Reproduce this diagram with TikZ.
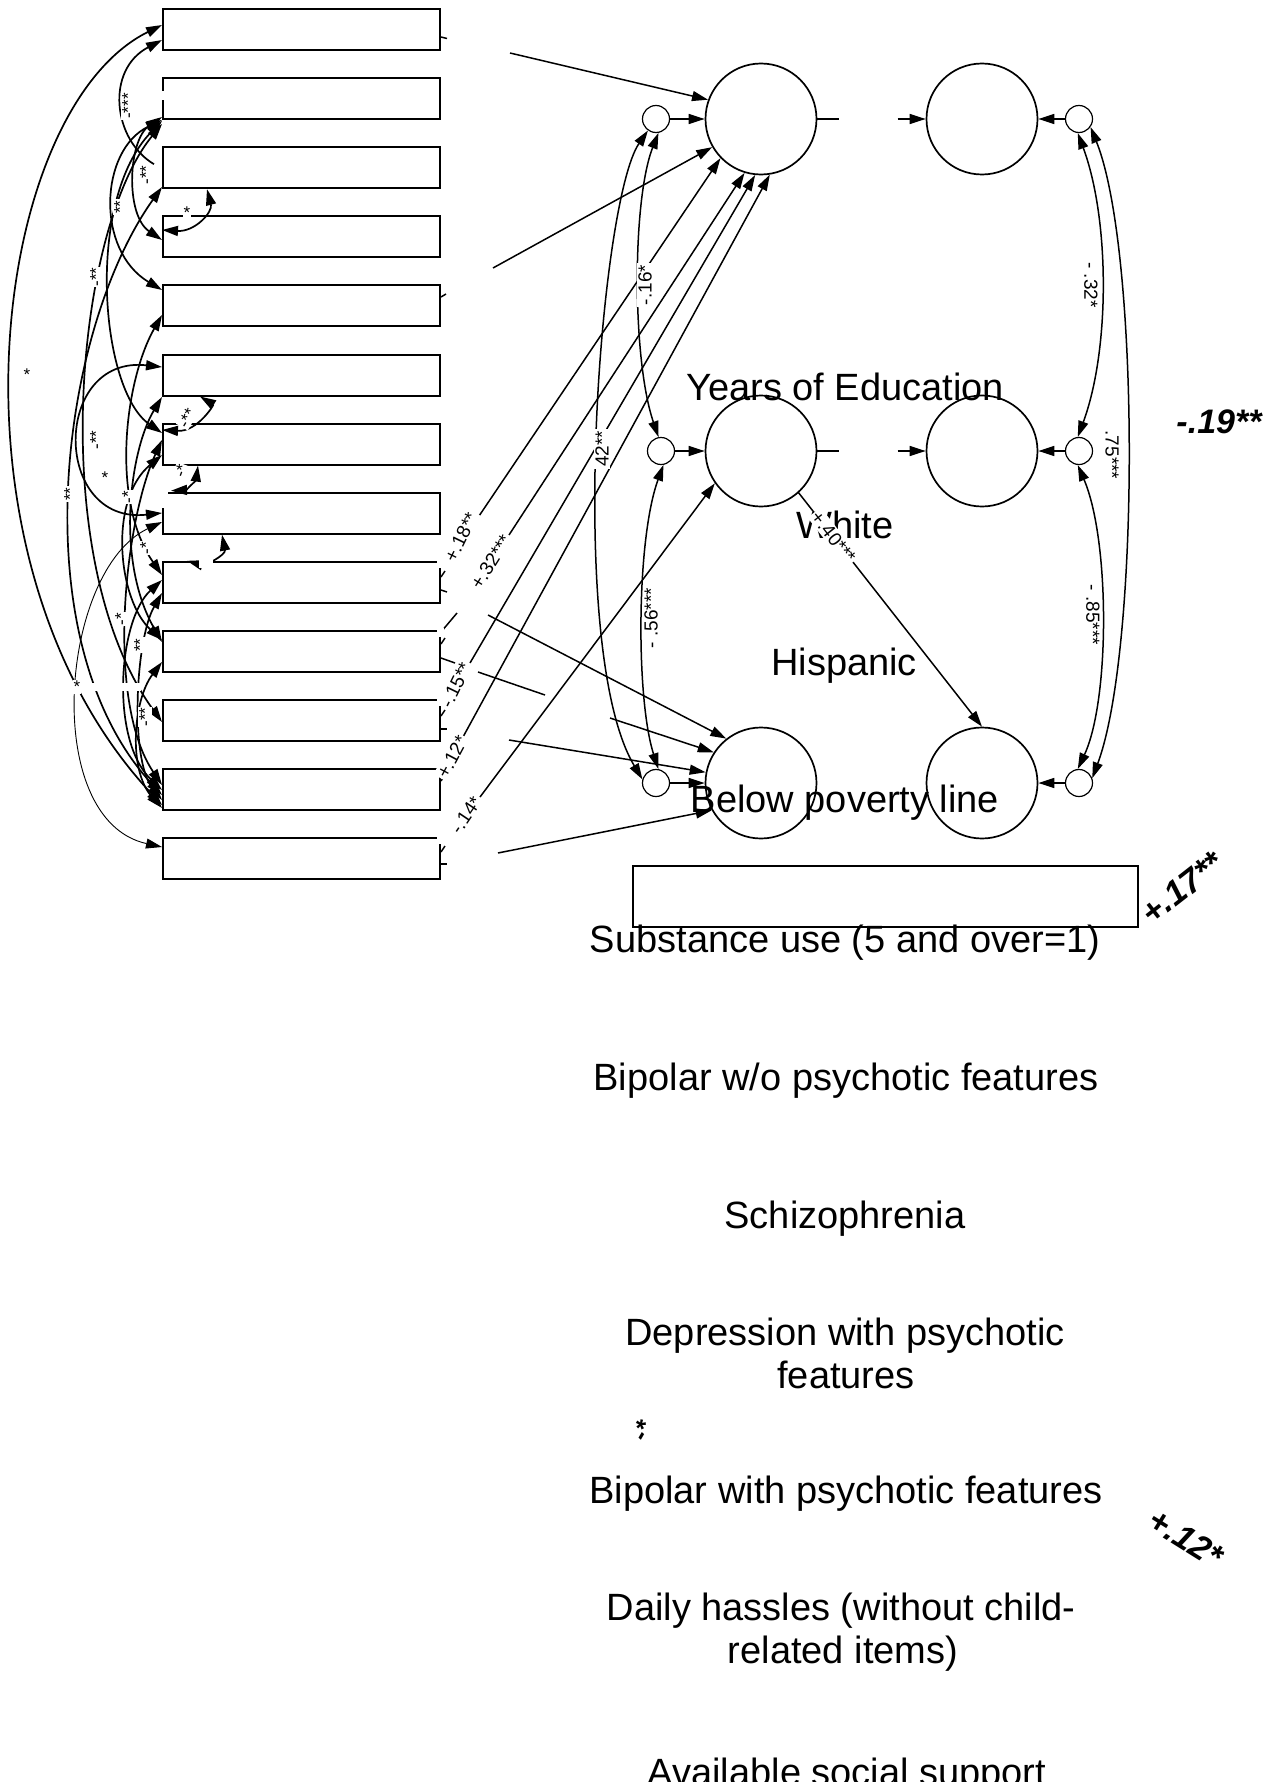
\documentclass[tikz,border=0pt]{standalone}
\usepackage{fontspec}
\setmainfont{Liberation Sans}
\usetikzlibrary{arrows.meta,calc}
\begin{document}
\begin{tikzpicture}[x=0.5pt,y=-0.5pt,
  box/.style={draw,line width=1pt,minimum width=138.5pt,minimum height=20.5pt,inner sep=0pt},
  big/.style={draw,circle,line width=0.85pt,minimum size=55.5pt,inner sep=0pt},
  sml/.style={draw,circle,line width=0.6pt,minimum size=13.5pt,inner sep=0pt},
  arr/.style={line width=0.75pt,-{Triangle[length=8pt,width=5pt]}},
  dbl/.style={line width=0.75pt,{Triangle[length=8pt,width=5pt]}-{Triangle[length=8pt,width=5pt]}},
  cov/.style={line width=0.85pt,{Triangle[length=8pt,width=5pt]}-{Triangle[length=8pt,width=5pt]}},
  covone/.style={line width=0.85pt,{Triangle[length=8pt,width=5pt]}-},
  covthin/.style={line width=0.45pt,{Triangle[length=8pt,width=5pt]}-{Triangle[length=8pt,width=5pt]}},
  plain/.style={line width=0.75pt},
  lbl/.style={font=\fontsize{9.5}{10}\selectfont,fill=white,inner sep=0.8pt},
  slbl/.style={font=\fontsize{8.5}{9}\selectfont,fill=white,inner sep=0.5pt},
  vtext/.style={font=\fontsize{19}{21.5}\selectfont,anchor=base},
  bilbl/.style={font=\fontsize{17}{18}\selectfont\bfseries\itshape}
]
\fill[white] (0,0) rectangle (1282,1782);
\useasboundingbox (0,0) rectangle (1282,1782);

% boxes
\foreach \i in {1,...,13} \node[box] (b\i) at (301.5,{29.5+69.1*(\i-1)}) {};
\node[draw,line width=0.8pt,minimum width=252.5pt,minimum height=30.5pt,inner sep=0pt] (sb) at (885.5,896.5) {};

% circles
\node[big] (c1) at (761,119) {};
\node[big] (c2) at (761,451) {};
\node[big] (c3) at (761,783) {};
\node[big] (r1) at (982,119) {};
\node[big] (r2) at (982,451) {};
\node[big] (r3) at (982,783) {};
\node[sml] (e1) at (656,119) {};
\node[sml] (e2) at (661,451) {};
\node[sml] (e3) at (656,783) {};
\node[sml] (f1) at (1079,119) {};
\node[sml] (f2) at (1079,451) {};
\node[sml] (f3) at (1079,783) {};

% residual arrows
\draw[arr] (e1) -- (c1);
\draw[arr] (e2) -- (c2);
\draw[arr] (e3) -- (c3);
\draw[arr] (f1) -- (r1);
\draw[arr] (f2) -- (r2);
\draw[arr] (f3) -- (r3);
\draw[plain] (c1.east) -- ++(22,0);
\draw[plain] (c2.east) -- ++(22,0);
\draw[arr] ($(r1.west)+(-28,0)$) -- (r1.west);
\draw[arr] ($(r2.west)+(-28,0)$) -- (r2.west);

% path arrows (visible parts)
\coordinate (p1) at (510,53);
\coordinate (p2) at (493,268);
\coordinate (pa) at (477,519);
\coordinate (pb) at (509,535);
\coordinate (pc) at (470,663);
\coordinate (pd) at (463,737);
\coordinate (pe) at (480,797);
\coordinate (q1) at (488,615);
\coordinate (q2) at (610,718);
\coordinate (q3) at (509,740);
\coordinate (q4) at (498,853);
\draw[arr] (p1) -- (c1.160);
\draw[arr] (p2) -- (c1.210);
\draw[arr] (pa) -- (c1.224);
\draw[arr] (pb) -- (c1.253);
\draw[arr] (pc) -- (c1.264);
\draw[arr] (pd) -- (c1.279);
\draw[arr] (pe) -- (c2.215);
\draw[arr] (q1) -- (c3.128);
\draw[arr] (q2) -- (c3.147);
\draw[arr] (q3) -- (c3.169);
\draw[arr] (q4) -- (c3.209);
% fragments near boxes
\draw[plain] (b10.east |- 0,658) -- (455,663);
\draw[plain] (478,672) -- (545,695);
\draw[plain] (b10.east |- 0,632) -- (457,613);
\draw[plain] (b1.east |- 0,37) -- ++(6,1.5);
\draw[plain] (b5.east |- 0,297) -- ++(5,-3);
\draw[plain] (b9.east |- 0,577) -- ++(4,-6);
\draw[plain] (b9.east |- 0,590) -- ++(6,2);
\draw[plain] (b10.east |- 0,644) -- ++(4,-6);
\draw[plain] (b11.east |- 0,716) -- ++(4,-6);
\draw[plain] (b11.east |- 0,729) -- ++(6,0);
\draw[plain] (b12.east |- 0,781) -- ++(4,-6);
\draw[plain] (b13.east |- 0,852) -- ++(4,-6);
\draw[plain] (b13.east |- 0,864) -- ++(6,0);
\foreach \i in {9,...,13} \fill[white] ($(b\i.north east)+(-4,-2)$) rectangle ($(b\i.north east)+(3,7)$);

% covariances among residuals
\draw[dbl] (e1.-80) .. controls (632,200) and (632,360) .. (e2.100);
\draw[dbl] (e1.235) .. controls (600,200) and (565,650) .. (e3.165);
\draw[dbl] (e2.-80) .. controls (636,540) and (636,700) .. (e3.80);
\draw[dbl] (f1.-95) .. controls (1110,220) and (1110,350) .. (f2.95);
\draw[dbl] (f1.-35) .. controls (1140,250) and (1140,650) .. (f3.20);
\draw[dbl] (f2.-95) .. controls (1110,540) and (1110,700) .. (f3.95);

% covariances among exogenous boxes
\draw[cov] (b1.west |- 0,25) .. controls (-10,110) and (-66,560) .. (b12.west |- 0,805);
\draw[covone] (b1.west |- 0,40) .. controls (105,70) and (113,140) .. ($(b3.north west)+(-8,18)$);
\draw[cov] (b2.west |- 0,120) .. controls (100,150) and (95,250) .. (b5.west |- 0,290);
\draw[cov] (b2.west |- 0,117) .. controls (128,140) and (125,215) .. (b4.west |- 0,240);
\draw[cov] (b3.south -| 207,0) .. controls (213,212) and (195,232) .. (b4.west |- 0,230);
\draw[cov] (b2.west |- 0,124) .. controls (75,230) and (45,560) .. (b11.west |- 0,722);
\draw[cov] (b3.west |- 0,187) .. controls (60,330) and (20,640) .. (b12.west |- 0,795);
\draw[cov] (b2.west |- 0,121) .. controls (85,200) and (100,390) .. (b7.west |- 0,433);
\draw[cov] (b6.west |- 0,367) .. controls (52,355) and (52,525) .. (b8.west |- 0,513);
\draw[cov] (b9.west |- 0,575) .. controls (110,500) and (125,380) .. (b5.west |- 0,315);
\draw[cov] (b10.west |- 0,642) .. controls (115,560) and (130,450) .. (b6.west |- 0,397);
\draw[cov] (b6.south -| 200,0) .. controls (214,405) and (197,432) .. (b7.west |- 0,430);
\draw[cov] (b12.west |- 0,785) .. controls (105,700) and (125,520) .. (b7.west |- 0,440);
\draw[cov] (b7.south -| 198,0) .. controls (196,480) and (186,490) .. ($(b8.north west)+(9,-1)$);
\draw[cov] (b8.south -| 222,0) .. controls (226,555) and (205,566) .. (b9.north -| 187,0);
\draw[covthin] (b8.west |- 0,522) .. controls (60,570) and (40,820) .. (b13.west |- 0,847);
\draw[cov] (b9.west |- 0,580) .. controls (118,620) and (110,740) .. (b12.west |- 0,790);
\draw[cov] (b9.west |- 0,593) .. controls (135,640) and (130,760) .. (b12.west |- 0,800);
\draw[cov] (b7.west |- 0,455) .. controls (108,500) and (118,600) .. (b10.west |- 0,640);
\draw[cov] (b12.west |- 0,808) .. controls (128,770) and (133,700) .. (b10.west |- 0,662);

% white gaps
\fill[white] (63,364) rectangle (71,388);
\fill[white] (64,683) rectangle (141,691);
\fill[white] (158,491) rectangle (168,508);
\fill[white] (158,91) rectangle (168,100);
\fill[white] (199,554) rectangle (213,568);

% left labels
\node[slbl,rotate=90] at (128,106) {-***};
\node[slbl,rotate=90] at (146,175) {-**};
\node[slbl,rotate=90] at (120,207) {**};
\node[slbl] at (187,213) {*};
\node[slbl,rotate=90] at (96,277) {-**};
\node[slbl] at (27,375) {*};
\node[slbl,rotate=60] at (187,418) {-**};
\node[slbl,rotate=90] at (96,440) {-**};
\node[slbl] at (105,478) {*};
\node[slbl,rotate=90] at (70,494) {**};
\node[slbl,rotate=90] at (128,497) {-*};
\node[slbl,rotate=70] at (181,471) {-*};
\node[slbl,rotate=90] at (146,548) {-*};
\node[slbl,rotate=90] at (121,619) {-*};
\node[slbl,rotate=90] at (140,645) {**};
\node[slbl] at (77,687) {*};
\node[slbl,rotate=90] at (145,717) {-**};

% path labels
\node[lbl,rotate=64] at (461,537) {+.18**};
\node[lbl,rotate=58] at (491,562) {+.32***};
\node[lbl,rotate=64] at (456,685) {-.15**};
\node[lbl,rotate=62] at (452,757) {+.12*};
\node[lbl,rotate=56] at (466,815) {-.14*};
\node[lbl,rotate=90] at (645,285) {-.16*};
\node[lbl,rotate=90] at (602,449) {42**};
\node[lbl,rotate=90] at (651,618) {- .56***};
\node[lbl,rotate=-90] at (1091,285) {- .32*};
\node[lbl,rotate=-90] at (1112,455) {.75***};
\node[lbl,rotate=-90] at (1093,615) {- .85***};

% variable names (displaced)
\node[vtext] (t1) at (845,400) {Years of Education};
\node[vtext] (t2) at (845,538) {White};
\node[vtext] (t3) at (844,675) {Hispanic};
\node[vtext] (t4) at (845,812) {Below poverty line};
\node[vtext] (t5) at (845,952) {Substance use (5 and over=1)};
\node[vtext] (t6) at (846,1090) {Bipolar w/o psychotic features};
\node[vtext] (t7) at (845,1228) {Schizophrenia};
\node[vtext] (t8) at (845,1345) {Depression with psychotic};
\node[vtext] (t8b) at (846,1388) {features};
\node[vtext] (t9) at (846,1503) {Bipolar with psychotic features};
\node[vtext] (t10) at (841,1620) {Daily hassles (without child-};
\node[vtext] (t10b) at (843,1663) {related items)};
\node[vtext] (t11) at (847,1785) {Available social support};

% path from c2 to r3 with label
\draw[arr] (c2.312) -- node[lbl,pos=0.19,sloped] {+.40***} (r3.north);

% bold italic coefficients
\node[bilbl] at (1219,422) {-.19**};
\node[bilbl,rotate=38] at (1182,888) {+.17**};
\node[bilbl,rotate=-32] at (1186,1538) {+.12*};
\node[font=\fontsize{13}{14}\selectfont\bfseries\itshape,rotate=60] at (642,1431) {-*};
\end{tikzpicture}
\end{document}
